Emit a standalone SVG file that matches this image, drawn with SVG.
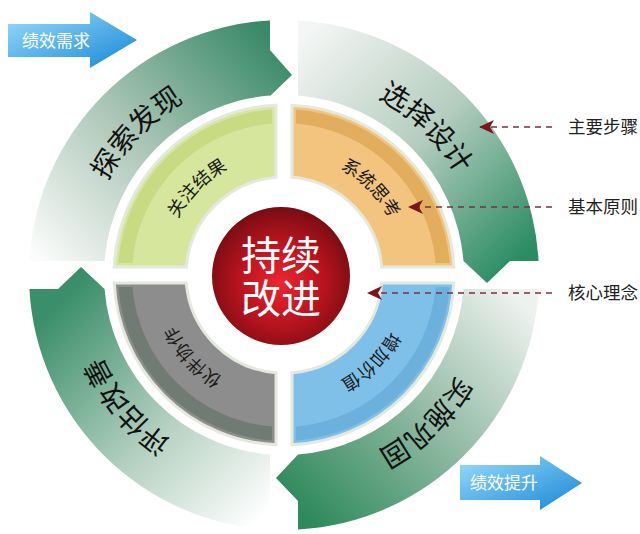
<svg xmlns="http://www.w3.org/2000/svg" width="640" height="534" viewBox="0 0 640 534">
<style>
.bandtxt{font-family:'Liberation Sans','Noto Sans CJK SC',sans-serif;font-size:28px;fill:#111;}
.intxt{font-family:'Liberation Sans','Noto Sans CJK SC',sans-serif;font-size:18px;fill:#1a1a1a;}
.lbl{font-family:'Liberation Sans','Noto Sans CJK SC',sans-serif;font-size:17.5px;fill:#222;}
.arrtxt{font-family:'Liberation Sans','Noto Sans CJK SC',sans-serif;font-size:17px;fill:#fff;}
.ctr{font-family:'Liberation Sans','Noto Sans CJK SC',sans-serif;font-size:40px;fill:#fff;text-anchor:middle;}
.quad{stroke:#e4e9de;stroke-width:3;}
.dash{fill:none;stroke:#7a3040;stroke-width:1.6;stroke-dasharray:6 5;marker-end:url(#barb);}
</style>
<defs>
<marker id="barb" viewBox="0 0 16 16" markerUnits="userSpaceOnUse" markerWidth="16" markerHeight="16" refX="14" refY="8" orient="auto">
<path d="M0,1 L15,8 L0,15 L4,8 Z" fill="#7b1520"/>
</marker>
<linearGradient id="gTL" gradientUnits="userSpaceOnUse" x1="40" y1="260" x2="270" y2="40">
<stop offset="0" stop-color="#fbfcfb"/><stop offset="0.5" stop-color="#a8c4b4"/><stop offset="1" stop-color="#3a8a68"/></linearGradient>
<linearGradient id="gTR" gradientUnits="userSpaceOnUse" x1="300" y1="40" x2="520" y2="260">
<stop offset="0" stop-color="#f4f6f5"/><stop offset="0.5" stop-color="#b5cdbf"/><stop offset="1" stop-color="#2a8c62"/></linearGradient>
<linearGradient id="gBR" gradientUnits="userSpaceOnUse" x1="520" y1="300" x2="300" y2="510">
<stop offset="0" stop-color="#eef2ef"/><stop offset="0.5" stop-color="#8fb9a2"/><stop offset="1" stop-color="#2e8a5c"/></linearGradient>
<linearGradient id="gBL" gradientUnits="userSpaceOnUse" x1="270" y1="510" x2="60" y2="300">
<stop offset="0" stop-color="#ffffff"/><stop offset="0.45" stop-color="#b4d0c0"/><stop offset="1" stop-color="#3a8e69"/></linearGradient>
<radialGradient id="gRed" cx="50%" cy="55%" r="55%">
<stop offset="0" stop-color="#ec2530"/><stop offset="0.55" stop-color="#b8141e"/><stop offset="1" stop-color="#780c12"/></radialGradient>
<linearGradient id="gBlue" x1="0" y1="0" x2="1" y2="1">
<stop offset="0" stop-color="#9adcfa"/><stop offset="1" stop-color="#1686d6"/></linearGradient>
<path id="tpTL" d="M91.7,330.1 A200,200 0 0 1 332.4,80.9"/>
<path id="tpTR" d="M228.9,82.7 A200,200 0 0 1 478.1,323.4"/>
<path id="tpBR" d="M478.1,226.6 A200,200 0 0 1 228.9,467.3"/>
<path id="tpBL" d="M318.7,472 A200,200 0 0 1 96.1,206.6"/>
<path id="ipTL" d="M168.1,306.1 A120,120 0 0 1 315.1,159.1"/>
<path id="ipTR" d="M252.9,159.1 A120,120 0 0 1 399.9,306.1"/>
<path id="ipBR" d="M399.9,243.9 A120,120 0 0 1 252.9,390.9"/>
<path id="ipBL" d="M308.9,392.4 A120,120 0 0 1 169.9,237.9"/>
</defs>
<rect width="640" height="534" fill="#fff"/>

<g id="band-explore">
<path d="M29.4,261 A255,255 0 0 1 270,20.4 L270,50 L292,75 L270,96 L270,95.55 A180,180 0 0 0 104.55,261 Z" fill="url(#gTL)"/>
<text class="bandtxt" text-anchor="middle"><textPath href="#tpTL" startOffset="50%">探索发现</textPath></text>
</g>
<g id="band-design">
<path d="M298,20.4 A255,255 0 0 1 538.6,261 L510,261 L487,283 L463.45,261 A180,180 0 0 0 298,95.55 Z" fill="url(#gTR)"/>
<text class="bandtxt" text-anchor="middle"><textPath href="#tpTR" startOffset="50%">选择设计</textPath></text>
</g>
<g id="band-implement">
<path d="M538.6,289 A255,255 0 0 1 298,529.6 L298,501 L276,478 L298,454.45 A180,180 0 0 0 463.45,289 Z" fill="url(#gBR)"/>
<text class="bandtxt" text-anchor="middle"><textPath href="#tpBR" startOffset="50%">实施巩固</textPath></text>
</g>
<g id="band-evaluate">
<path d="M270,529.6 A255,255 0 0 1 29.4,289 L58,289 L81,267 L104.55,289 A180,180 0 0 0 270,454.45 Z" fill="url(#gBL)"/>
<text class="bandtxt" text-anchor="middle"><textPath href="#tpBL" startOffset="50%">评估改善</textPath></text>
</g>

<g id="q-results">
<path class="quad" d="M276,105.2 A170,170 0 0 0 114.2,267 L186.3,267 A98,98 0 0 1 276,177.3 Z" fill="#d6e69c"/>
<path d="M272,109.4 A166,166 0 0 0 118.4,263 L132.5,263 A152,152 0 0 1 272,123.5 Z" fill="#c8da82"/>
<text class="intxt" text-anchor="middle"><textPath href="#ipTL" startOffset="50%">关注结果</textPath></text>
</g>
<g id="q-system">
<path class="quad" d="M292,105.2 A170,170 0 0 1 453.8,267 L381.7,267 A98,98 0 0 0 292,177.3 Z" fill="#f3c47e"/>
<path d="M296,109.4 A166,166 0 0 1 449.6,263 L435.5,263 A152,152 0 0 0 296,123.5 Z" fill="#e2ae5e"/>
<text class="intxt" text-anchor="middle"><textPath href="#ipTR" startOffset="50%">系统思考</textPath></text>
</g>
<g id="q-partner">
<path class="quad" d="M114.2,283 A170,170 0 0 0 276,444.8 L276,372.7 A98,98 0 0 1 186.3,283 Z" fill="#8d8d8d"/>
<path d="M118.4,287 A166,166 0 0 0 272,440.6 L272,426.5 A152,152 0 0 1 132.5,287 Z" fill="#6f7b73"/>
<text class="intxt" text-anchor="middle"><textPath href="#ipBL" startOffset="50%">伙伴协作</textPath></text>
</g>
<g id="q-value">
<path class="quad" d="M453.8,283 A170,170 0 0 1 292,444.8 L292,372.7 A98,98 0 0 0 381.7,283 Z" fill="#7ec0e8"/>
<path d="M449.6,287 A166,166 0 0 1 296,440.6 L296,426.5 A152,152 0 0 0 435.5,287 Z" fill="#6cb0dc"/>
<text class="intxt" text-anchor="middle"><textPath href="#ipBR" startOffset="50%">增加价值</textPath></text>
</g>

<g id="center">
<circle cx="281" cy="276" r="69" fill="url(#gRed)"/>
<text class="ctr" x="281" y="270">持续</text>
<text class="ctr" x="281" y="313">改进</text>
</g>

<g id="need-arrow">
<path d="M8,24 L90,24 L90,12 L137,40 L90,68 L90,57 L8,57 Z" fill="url(#gBlue)"/>
<text class="arrtxt" x="22" y="47">绩效需求</text>
</g>
<g id="gain-arrow">
<path d="M460,465 L540,465 L540,456 L582,483 L540,510 L540,500 L460,500 Z" fill="url(#gBlue)"/>
<text class="arrtxt" x="470" y="489">绩效提升</text>
</g>

<g id="connectors">
<line class="dash" x1="552" y1="127" x2="480" y2="127"/>
<line class="dash" x1="552" y1="207" x2="409" y2="207"/>
<line class="dash" x1="552" y1="293" x2="368" y2="293"/>
</g>
<g id="labels">
<text class="lbl" x="568" y="133">主要步骤</text>
<text class="lbl" x="568" y="213">基本原则</text>
<text class="lbl" x="568" y="299">核心理念</text>
</g>
</svg>
